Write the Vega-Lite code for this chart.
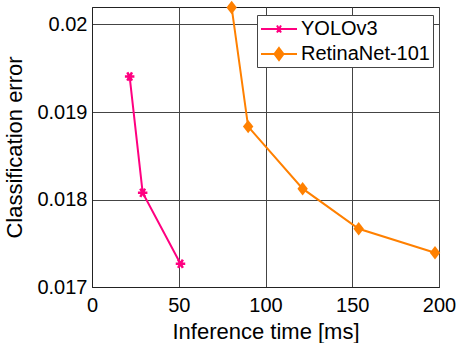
{
  "$schema": "https://vega.github.io/schema/vega-lite/v6.json",
  "width": 347,
  "height": 280,
  "autosize": "none",
  "padding": {"left": 92, "top": 7, "right": 17, "bottom": 56},
  "background": "white",
  "config": {
    "font": "Liberation Sans",
    "view": {"stroke": "#222", "strokeWidth": 1},
    "axis": {
      "labelFont": "Liberation Sans",
      "titleFont": "Liberation Sans",
      "labelFontSize": 20,
      "titleFontSize": 22,
      "titleFontWeight": "normal",
      "labelColor": "#000",
      "titleColor": "#000",
      "gridColor": "#444",
      "gridOpacity": 1,
      "gridWidth": 1,
      "domainColor": "#222",
      "ticks": false,
      "labelFlush": false,
      "labelPadding": 6
    }
  },
  "data": {
    "values": [
      {"series": "YOLOv3", "time": 21.7, "error": 0.019405},
      {"series": "YOLOv3", "time": 29.2, "error": 0.018078},
      {"series": "YOLOv3", "time": 51.0, "error": 0.017265},
      {"series": "RetinaNet-101", "time": 80.5, "error": 0.020194},
      {"series": "RetinaNet-101", "time": 90.0, "error": 0.018833},
      {"series": "RetinaNet-101", "time": 121.4, "error": 0.018124},
      {"series": "RetinaNet-101", "time": 153.7, "error": 0.017666},
      {"series": "RetinaNet-101", "time": 197.7, "error": 0.017391}
    ]
  },
  "encoding": {
    "x": {
      "field": "time",
      "type": "quantitative",
      "scale": {"domain": [0, 200], "nice": false},
      "axis": {"values": [0, 50, 100, 150, 200], "title": "Inference time [ms]", "titlePadding": 6, "labelPadding": 8}
    },
    "y": {
      "field": "error",
      "type": "quantitative",
      "scale": {"domain": [0.017, 0.0202], "nice": false, "zero": false},
      "axis": {"values": [0.017, 0.018, 0.019, 0.02], "format": "~f", "title": "Classification error", "titlePadding": 10, "labelPadding": 5}
    }
  },
  "layer": [
    {
      "mark": {"type": "line", "strokeWidth": 2},
      "encoding": {
        "color": {
          "field": "series",
          "type": "nominal",
          "scale": {"domain": ["YOLOv3", "RetinaNet-101"], "range": ["#ff0080", "#ff8000"]},
          "legend": {
            "title": null,
            "orient": "none",
            "legendX": 165,
            "legendY": 8,
            "labelFont": "Liberation Sans",
            "labelFontSize": 20,
            "labelColor": "#000",
            "symbolSize": 400,
            "symbolOffset": 8,
            "labelOffset": 11,
            "rowPadding": 4,
            "padding": 3,
            "strokeColor": "#444",
            "fillColor": "white",
            "encode": {
              "symbols": {
                "update": {
                  "shape": {"signal": "datum.value === 'YOLOv3' ? 'M-1.8,0L1.8,0M-0.4,0L0.4,0M-0.2,-0.35L0.2,0.35M-0.2,0.35L0.2,-0.35' : 'M-1.8,0L1.8,0M0,-0.6L0.45,0L0,0.6L-0.45,0Z'"},
                  "fill": {"signal": "datum.value === 'YOLOv3' ? '#ff0080' : '#ff8000'"},
                  "stroke": {"signal": "datum.value === 'YOLOv3' ? '#ff0080' : '#ff8000'"},
                  "strokeWidth": {"value": 2},
                  "fillOpacity": {"value": 1},
                  "opacity": {"value": 1}
                }
              }
            }
          }
        }
      }
    },
    {
      "transform": [{"filter": "datum.series === 'YOLOv3'"}],
      "mark": {
        "type": "point",
        "filled": false,
        "opacity": 1,
        "color": "#ff0080",
        "strokeWidth": 2.5,
        "size": 90,
        "shape": "M-1,0L1,0M-0.5,-0.87L0.5,0.87M-0.5,0.87L0.5,-0.87"
      }
    },
    {
      "transform": [{"filter": "datum.series === 'RetinaNet-101'"}],
      "mark": {
        "type": "point",
        "filled": true,
        "opacity": 1,
        "color": "#ff8000",
        "size": 150,
        "shape": "M0,-1.1L0.85,0L0,1.1L-0.85,0Z"
      }
    }
  ]
}
